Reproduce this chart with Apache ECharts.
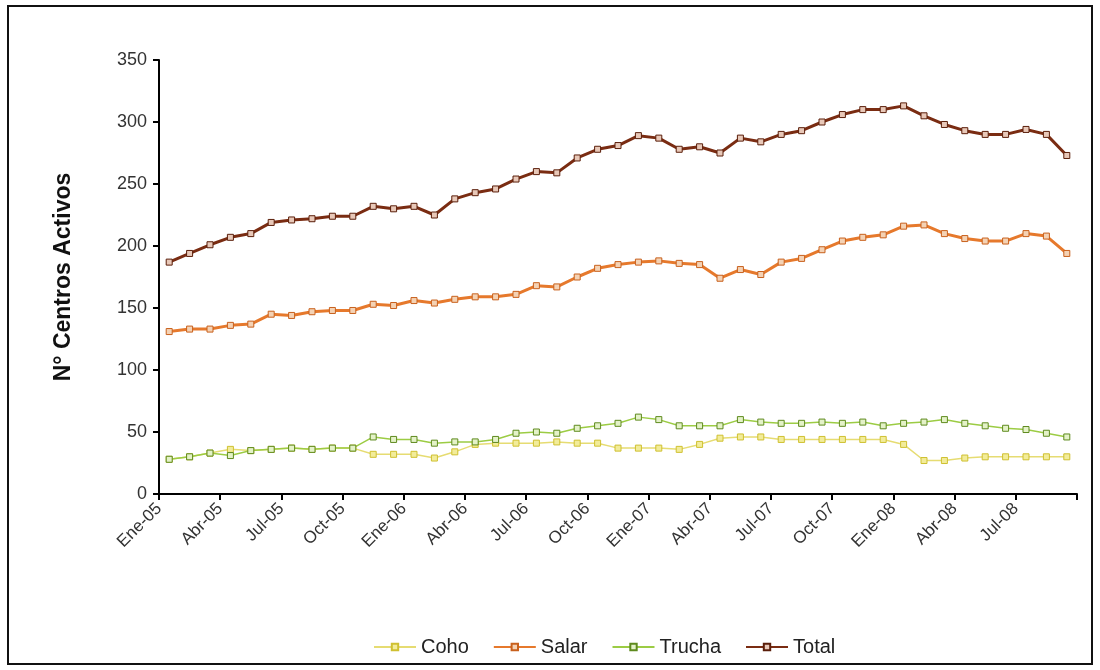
<!DOCTYPE html>
<html lang="es">
<head>
  <meta charset="UTF-8">
  <title>N° Centros Activos</title>
  <script src="https://cdn.jsdelivr.net/npm/echarts@6/dist/echarts.min.js"></script>
  <style>
    body { margin: 0; background: #fff; }
    #chart { width: 1100px; height: 670px; }
  </style>
</head>
<body>
  <div id="chart"></div>
  <script>
    // meses Ene-05 .. Sep-08
    const months = [
      'Ene-05','Feb-05','Mar-05','Abr-05','May-05','Jun-05','Jul-05','Ago-05','Sep-05','Oct-05','Nov-05','Dic-05',
      'Ene-06','Feb-06','Mar-06','Abr-06','May-06','Jun-06','Jul-06','Ago-06','Sep-06','Oct-06','Nov-06','Dic-06',
      'Ene-07','Feb-07','Mar-07','Abr-07','May-07','Jun-07','Jul-07','Ago-07','Sep-07','Oct-07','Nov-07','Dic-07',
      'Ene-08','Feb-08','Mar-08','Abr-08','May-08','Jun-08','Jul-08','Ago-08','Sep-08'
    ];
    const tickLabels = ['Ene-05','Abr-05','Jul-05','Oct-05','Ene-06','Abr-06','Jul-06','Oct-06',
      'Ene-07','Abr-07','Jul-07','Oct-07','Ene-08','Abr-08','Jul-08',''];

    const coho = [28,30,33,36,35,36,37,36,37,37,32,32,32,29,34,40,41,41,41,42,41,41,37,37,37,36,40,45,46,46,44,44,44,44,44,44,40,27,27,29,30,30,30,30,30];
    const salar = [131,133,133,136,137,145,144,147,148,148,153,152,156,154,157,159,159,161,168,167,175,182,185,187,188,186,185,174,181,177,187,190,197,204,207,209,216,217,210,206,204,204,210,208,194];
    const trucha = [28,30,33,31,35,36,37,36,37,37,46,44,44,41,42,42,44,49,50,49,53,55,57,62,60,55,55,55,60,58,57,57,58,57,58,55,57,58,60,57,55,53,52,49,46];
    const total = [187,194,201,207,210,219,221,222,224,224,232,230,232,225,238,243,246,254,260,259,271,278,281,289,287,278,280,275,287,284,290,293,300,306,310,310,313,305,298,293,290,290,294,290,273];

    // cada mes ocupa una unidad; el punto va al centro del mes
    function toPoints(vals) {
      return vals.map((v, i) => [i + 0.5, v]);
    }

    var myChart = echarts.init(document.getElementById('chart'));

    var option = {
      backgroundColor: '#fff',
      animation: false,
      textStyle: { fontFamily: 'Liberation Sans, Arial, sans-serif' },
      graphic: [{
        type: 'rect',
        shape: { x: 8, y: 6, width: 1084, height: 658 },
        style: { fill: null, stroke: '#111', lineWidth: 2 }
      }],
      grid: { left: 159, right: 23, top: 60, bottom: 176 },
      legend: {
        bottom: 8,
        left: 368,
        itemWidth: 42,
        itemHeight: 8,
        itemGap: 24,
        textStyle: { fontSize: 20, color: '#222' },
        data: ['Coho', 'Salar', 'Trucha', 'Total']
      },
      xAxis: {
        type: 'value',
        min: 0,
        max: 45,
        interval: 3,
        splitLine: { show: false },
        axisLine: { lineStyle: { color: '#000', width: 2 } },
        axisTick: { show: true, length: 6, lineStyle: { color: '#000', width: 2 } },
        axisLabel: {
          rotate: 45,
          fontSize: 17,
          color: '#333',
          margin: 12,
          formatter: v => tickLabels[Math.round(v / 3)] || ''
        }
      },
      yAxis: {
        type: 'value',
        min: 0,
        max: 350,
        interval: 50,
        name: 'N° Centros Activos',
        nameLocation: 'middle',
        nameGap: 84,
        nameTextStyle: { fontSize: 23, fontWeight: 'bold', color: '#111' },
        splitLine: { show: false },
        axisLine: { show: true, lineStyle: { color: '#000', width: 2 } },
        axisTick: { show: true, length: 6, lineStyle: { color: '#000', width: 2 } },
        axisLabel: { fontSize: 18, color: '#333', margin: 12 }
      },
      series: [{
        name: 'Coho',
        type: 'line',
        data: toPoints(coho),
        symbol: 'rect',
        symbolSize: 6,
        lineStyle: { color: '#e6dc72', width: 1.5 },
        itemStyle: { color: '#f2ec9a', borderColor: '#cfc030', borderWidth: 1 }
      }, {
        name: 'Salar',
        type: 'line',
        data: toPoints(salar),
        symbol: 'rect',
        symbolSize: 6,
        lineStyle: { color: '#e6792c', width: 3 },
        itemStyle: { color: '#f4d2b4', borderColor: '#c8601c', borderWidth: 1 }
      }, {
        name: 'Trucha',
        type: 'line',
        data: toPoints(trucha),
        symbol: 'rect',
        symbolSize: 6,
        lineStyle: { color: '#9ccc44', width: 1.5 },
        itemStyle: { color: '#e4f2c8', borderColor: '#5e8a1e', borderWidth: 1 }
      }, {
        name: 'Total',
        type: 'line',
        data: toPoints(total),
        symbol: 'rect',
        symbolSize: 6,
        lineStyle: { color: '#7a2c12', width: 3 },
        itemStyle: { color: '#e8c8b8', borderColor: '#5a1e0a', borderWidth: 1 }
      }]
    };

    myChart.setOption(option);
  </script>
</body>
</html>
